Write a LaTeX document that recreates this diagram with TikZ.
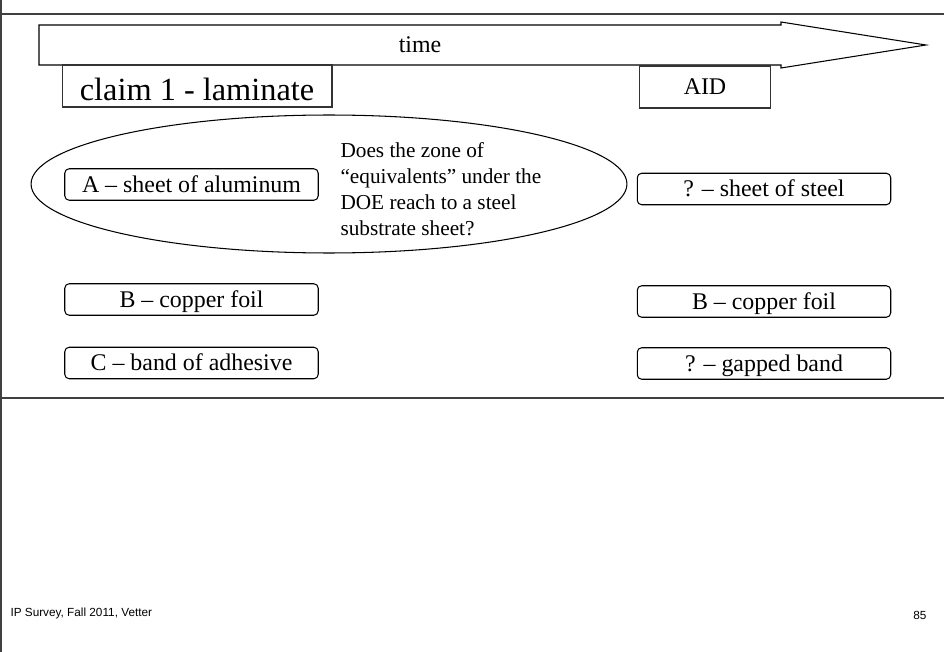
\documentclass[tikz,border=0pt]{standalone}
\usepackage{fontspec}
\setmainfont{Liberation Serif}
\setsansfont{Liberation Sans}
\usetikzlibrary{shapes.geometric, positioning, calc}

\begin{document}
\begin{tikzpicture}[x=0.02cm, y=-0.02cm, line width=0.6pt,
    boxtext/.style={font=\fontsize{13.6}{15}\selectfont,
      text height=9pt, text depth=0pt},
    element/.style={draw, rounded corners=2.5pt, boxtext, inner sep=0pt,
      minimum width=5.07cm, minimum height=0.63cm},
    tag/.style={draw, black!80, text=black, boxtext, inner sep=0pt,
      minimum height=0.84cm}]
    \useasboundingbox (0,0) rectangle (944,652);
    % slide frame
    \draw[black!75] (1,0) -- (1,652);
    \draw[black!75] (0,14) -- (944,14);
    \draw[black!75] (0,398) -- (944,398);
    % time arrow
    \draw (39,25) -- (781,25) -- (781,22) -- (926,45) -- (781,68)
      -- (781,65) -- (39,65) -- cycle;
    \node[boxtext] (time) at (420,45) {time};
    % headings
    \node[tag, minimum width=5.4cm, font=\fontsize{18.4}{20}\selectfont,
      text height=16pt] (claim) at (197,86) {claim 1 - laminate};
    \node[tag, minimum width=2.62cm] (aid) at (705,87) {AID};
    % DOE zone
    \node[draw, ellipse, minimum width=11.92cm, minimum height=2.76cm]
      (zone) at (329,184) {};
    \node[anchor=west, align=left, inner sep=0pt,
      font=\fontsize{12.1}{14.8}\selectfont] (question) at (340,189)
      {Does the zone of\\``equivalents'' under the\\DOE reach to a steel\\substrate sheet?};
    % claim elements
    \node[element] (elA) at (191.5,184.5) {A -- sheet of aluminum};
    \node[element] (elB) at (191.5,299.5) {B -- copper foil};
    \node[element] (elC) at (191.5,363) {C -- band of adhesive};
    % accused device
    \node[element] (aidA) at (764,189) {? -- sheet of steel};
    \node[element] (aidB) at (764,301.5) {B -- copper foil};
    \node[element] (aidC) at (764,363.5) {? -- gapped band};
    % footer
    \node[anchor=west, inner sep=0pt, font=\sffamily\fontsize{6.7}{8}\selectfont]
      (footer) at (10,613) {IP Survey, Fall 2011, Vetter};
    \node[anchor=east, inner sep=0pt, font=\sffamily\fontsize{6.7}{8}\selectfont]
      (page) at (927,615) {85};
\end{tikzpicture}
\end{document}
